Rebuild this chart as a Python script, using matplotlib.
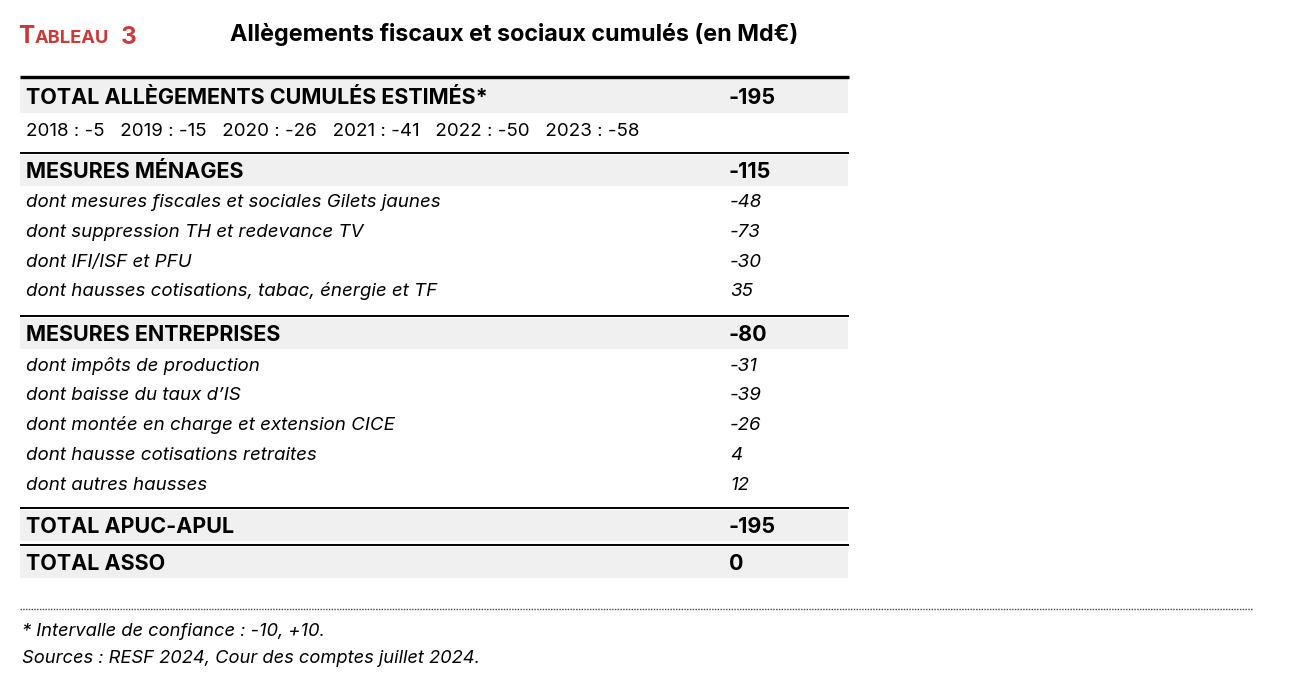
import matplotlib.pyplot as plt

plt.rcParams['font.family'] = ['Inter', 'DejaVu Sans']

# données (Md€)
annees = [2018, 2019, 2020, 2021, 2022, 2023]
cumul_annees = [-5, -15, -26, -41, -50, -58]

total_label = "TOTAL ALLÈGEMENTS CUMULÉS ESTIMÉS*"
total_val = -195

menages_label = "MESURES MÉNAGES"
menages_val = -115
menages_details = ["dont mesures fiscales et sociales Gilets jaunes",
                   "dont suppression TH et redevance TV",
                   "dont IFI/ISF et PFU",
                   "dont hausses cotisations, tabac, énergie et TF"]
menages_details_val = [-48, -73, -30, 35]

entreprises_label = "MESURES ENTREPRISES"
entreprises_val = -80
entreprises_details = ["dont impôts de production",
                       "dont baisse du taux d’IS",
                       "dont montée en charge et extension CICE",
                       "dont hausse cotisations retraites",
                       "dont autres hausses"]
entreprises_details_val = [-31, -39, -26, 4, 12]

apu_label = "TOTAL APUC-APUL"
apu_val = -195
asso_label = "TOTAL ASSO"
asso_val = 0

notes = ["* Intervalle de confiance : -10, +10.",
         "Sources : RESF 2024, Cour des comptes juillet 2024."]

W, H = 1290, 685
fig = plt.figure(figsize=(W / 100, H / 100), dpi=100)
ax = fig.add_axes([0, 0, 1, 1])
ax.set_xlim(0, W)
ax.set_ylim(H, 0)
ax.axis('off')

red = '#cc3a38'
band = '#f0f0f0'
x0, x1 = 20, 849
xlab, xval = 26, 729
fs_head = 15.5
fs = 13.5

# titre
ax.text(18, 43, "T", color=red, fontsize=17.5, fontweight='bold', va='baseline')
ax.text(35, 43, "ABLEAU", color=red, fontsize=13.2, fontweight='bold', va='baseline')
ax.text(121, 43.5, "3", color=red, fontsize=17.5, fontweight='bold', va='baseline')
ax.text(230, 41, "Allègements fiscaux et sociaux cumulés (en Md€)",
        fontsize=16.8, fontweight='bold', va='baseline')


def header(y_top, y_bot, label, val, lw):
    ax.plot([x0, x1], [y_top, y_top], color='black', lw=lw, solid_capstyle='butt')
    ax.fill_between([x0, x1 - 1], y_top + 1.5, y_bot, color=band, lw=0)
    yb = (y_top + y_bot) / 2 + 8.5
    ax.text(xlab, yb, label, fontsize=fs_head, fontweight='bold', va='baseline')
    ax.text(xval, yb, str(val), fontsize=fs_head, fontweight='bold', va='baseline')


def detail(y, label, val):
    ax.text(xlab, y, label, fontsize=fs, style='italic', va='baseline')
    ax.text(xval + 1, y, str(val), fontsize=fs, style='italic', va='baseline')


header(77, 113, total_label, total_val, 2.4)
s = "   ".join(f"{a} : {v}" for a, v in zip(annees, cumul_annees))
ax.text(xlab, 135.5, s, fontsize=fs, va='baseline')

header(153, 186, menages_label, menages_val, 1.4)
for i, (lab, v) in enumerate(zip(menages_details, menages_details_val)):
    detail(207 + 29.8 * i, lab, v)

header(316, 349, entreprises_label, entreprises_val, 1.4)
for i, (lab, v) in enumerate(zip(entreprises_details, entreprises_details_val)):
    detail(370.5 + 29.8 * i, lab, v)

header(508, 541, apu_label, apu_val, 1.4)
header(545, 578, asso_label, asso_val, 1.4)

ax.plot([x0, 1253], [609, 609], color='#444444', lw=1, ls=(0, (1, 1)))
ax.text(22, 636, notes[0], fontsize=13.2, style='italic', va='baseline')
ax.text(22, 663, notes[1], fontsize=13.2, style='italic', va='baseline')

fig.savefig('out.png', dpi=100)
